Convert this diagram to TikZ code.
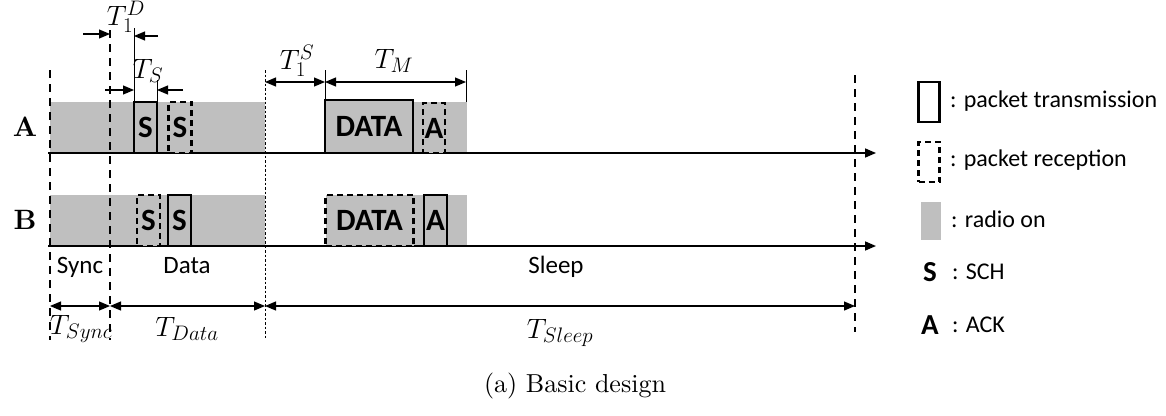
\RequirePackage{fix-cm}
\documentclass[tikz,border=0pt]{standalone}
\usepackage{fontspec}
\newfontfamily\carl{Carlito}
\newfontfamily\lmten{lmroman10-regular}[Extension=.otf,BoldFont=lmroman10-bold]
\DeclareMathSizes{28}{28}{21}{16}
\usetikzlibrary{arrows.meta}
\begin{document}
\begin{tikzpicture}[x=1pt,y=-1pt,
  radio/.style={fill=black!25,draw=none},
  txbox/.style={draw,line width=2.4pt,fill=black!25,inner sep=0pt,font=\carl\bfseries\fontsize{31}{34}\selectfont},
  rxbox/.style={txbox,dash pattern=on 6pt off 4pt,line width=2.2pt},
  vdash/.style={line width=1.6pt,dash pattern=on 8pt off 6pt},
  vdot/.style={line width=0.8pt,dash pattern=on 2.5pt off 2pt},
  axis/.style={line width=1.6pt,-{Triangle[length=11pt,width=9pt]}},
  dimline/.style={line width=1.2pt,{Triangle[length=11pt,width=9pt]}-{Triangle[length=11pt,width=9pt]}},
  onearrow/.style={line width=1.2pt,-{Triangle[length=11pt,width=9pt]}},
  tick/.style={line width=1pt},
  lbl/.style={font=\carl\fontsize{24}{28}\selectfont,inner sep=0pt},
  plbl/.style={font=\carl\fontsize{25}{28}\selectfont,inner sep=0pt},
  mlbl/.style={font=\fontsize{28}{32}\selectfont,inner sep=0pt},
  row/.style={font=\lmten\bfseries\fontsize{28}{31}\selectfont,inner sep=0pt}]
\useasboundingbox (0,0) rectangle (1166,415);

% radio-on bands
\fill[radio] (50,102) rectangle (265,153);
\fill[radio] (413,102) rectangle (467,153);
\fill[radio] (50,195) rectangle (265,246);
\fill[radio] (413,195) rectangle (467,246);

% vertical phase lines
\coordinate (v0t) at (50,70);  \coordinate (v0b) at (50,340);
\coordinate (v1t) at (110,30); \coordinate (v1b) at (110,340);
\coordinate (v2t) at (265,70); \coordinate (v2b) at (265,338);
\coordinate (v3t) at (855,75); \coordinate (v3b) at (855,332);
\draw[vdash] (v0t) -- (v0b);
\draw[vdash] (v1t) -- (v1b);
\draw[vdot] (v2t) -- (v2b);
\draw[vdash] (v3t) -- (v3b);

% time axes
\coordinate (aS) at (48,153); \coordinate (aE) at (876,153);
\coordinate (bS) at (48,246); \coordinate (bE) at (876,246);
\draw[axis] (aS) -- (aE);
\draw[axis] (bS) -- (bE);

\node[row] (rowA) at (25,127) {A};
\node[row] (rowB) at (25,220) {B};

% row A packets
\node[txbox,minimum width=23pt,minimum height=51pt] (aS1) at (145.5,127.5) {S};
\node[rxbox,minimum width=23pt,minimum height=51pt] (aS2) at (180,127.5) {S};
\node[txbox,minimum width=88pt,minimum height=53pt] (aD) at (369,126.5) {DATA};
\node[rxbox,minimum width=22pt,minimum height=50pt] (aA) at (434,128) {A};

% row B packets
\node[rxbox,minimum width=23pt,minimum height=51pt] (bS1) at (148.5,220.5) {S};
\node[txbox,minimum width=23pt,minimum height=51pt] (bS2) at (179.5,220.5) {S};
\node[rxbox,minimum width=88pt,minimum height=51pt] (bD) at (369.5,220.5) {DATA};
\node[txbox,minimum width=23pt,minimum height=51pt] (bA) at (435.5,220.5) {A};

% top dimension markers
\coordinate (t1a) at (134,28);  \coordinate (t1b) at (134,102);
\coordinate (t2a) at (157,80);  \coordinate (t2b) at (157,102);
\coordinate (t3a) at (325,70);  \coordinate (t3b) at (325,100);
\coordinate (t4a) at (466,70);  \coordinate (t4b) at (466,102);
\draw[tick] (t1a) -- (t1b);
\draw[tick] (t2a) -- (t2b);
\draw[tick] (t3a) -- (t3b);
\draw[tick] (t4a) -- (t4b);

\coordinate (d1s) at (83,34);  \coordinate (d1e) at (110,34);
\coordinate (d2s) at (158,36); \coordinate (d2e) at (134,36);
\draw[onearrow] (d1s) -- (d1e);
\draw[onearrow] (d2s) -- (d2e);
\node[mlbl] (lTD) at (126,17) {$T_1^D$};

\coordinate (d3s) at (105,90); \coordinate (d3e) at (134,90);
\coordinate (d4s) at (183,90); \coordinate (d4e) at (157,90);
\draw[onearrow] (d3s) -- (d3e);
\draw[onearrow] (d4s) -- (d4e);
\node[mlbl] (lTS) at (148,71) {$T_S$};

\coordinate (d5s) at (265,82); \coordinate (d5e) at (325,82);
\coordinate (d6s) at (325,82); \coordinate (d6e) at (466,82);
\draw[dimline] (d5s) -- (d5e);
\draw[dimline] (d6s) -- (d6e);
\node[mlbl] (lT1S) at (297,61) {$T_1^S$};
\node[mlbl] (lTM) at (394,61) {$T_M$};

% phase names
\node[plbl,anchor=base] (pSync) at (80,273) {Sync};
\node[plbl,anchor=base] (pData) at (187,273) {Data};
\node[plbl,anchor=base] (pSleep) at (556,273) {Sleep};

% bottom durations
\coordinate (b0) at (50,306); \coordinate (b1) at (110,306);
\coordinate (b2) at (265,306); \coordinate (b3) at (855,306);
\draw[dimline] (b0) -- (b1);
\draw[dimline] (b1) -- (b2);
\draw[dimline] (b2) -- (b3);
\node[mlbl] (lSync) at (81,329) {$T_{Sync}$};
\node[mlbl] (lData) at (187,329) {$T_{Data}$};
\node[mlbl] (lSleep) at (560,333) {$T_{Sleep}$};

% legend
\node[draw,line width=2.4pt,inner sep=0pt,minimum width=21pt,minimum height=40pt] (gTx) at (929,102) {};
\node[draw,line width=2.2pt,dash pattern=on 6pt off 4pt,inner sep=0pt,minimum width=21pt,minimum height=40pt] (gRx) at (929,162) {};
\node[fill=black!25,inner sep=0pt,minimum width=20pt,minimum height=38pt] (gOn) at (931,221) {};
\node[font=\carl\bfseries\fontsize{29}{32}\selectfont,inner sep=0pt] (gS) at (930,272) {S};
\node[font=\carl\bfseries\fontsize{29}{32}\selectfont,inner sep=0pt] (gA) at (930,325) {A};
\node[lbl,anchor=base west] (tTx) at (950,107) {: packet transmission};
\node[lbl,anchor=base west] (tRx) at (950,166) {: packet reception};
\node[lbl,anchor=base west] (tOn) at (951,227) {: radio on};
\node[lbl,anchor=base west] (tS) at (952,279) {: SCH};
\node[lbl,anchor=base west] (tA) at (952,332) {: ACK};

% caption
\node[font=\lmten\fontsize{26}{30}\selectfont,inner sep=0pt] (cap) at (575,386) {(a) Basic design};
\end{tikzpicture}
\end{document}
